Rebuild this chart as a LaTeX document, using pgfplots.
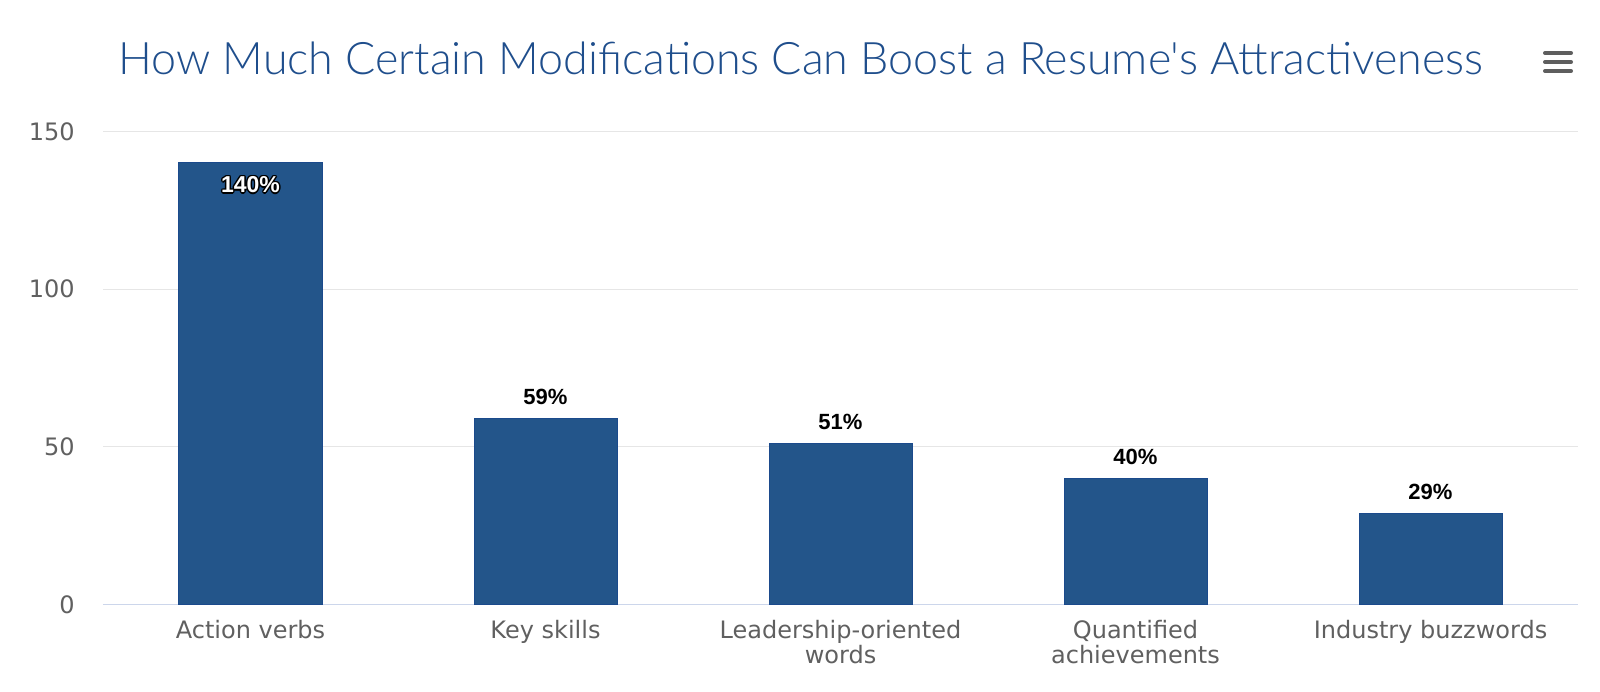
\documentclass[border=0pt]{standalone}
\usepackage{pgfplots}
\pgfplotsset{compat=1.18}
\usepackage{fontspec}
\setmainfont{DejaVu Sans}
\newfontfamily\labfont{Liberation Sans}
\newfontfamily\titlefont{Lato Light}

\definecolor{barblue}{HTML}{23558A}
\definecolor{barline}{HTML}{1B4A8C}
\definecolor{titleblue}{HTML}{1F4E8C}
\definecolor{tickgray}{HTML}{606060}
\definecolor{gridgray}{HTML}{E6E6E6}
\definecolor{axisblue}{HTML}{CCD6EB}
\definecolor{menugray}{HTML}{5E5E5E}

% two-line tick label, baseline on the first line
\newcommand\two[2]{\begin{tabular}[t]{@{}c@{}}#1\\#2\end{tabular}}

% white text with a thin black outline (label inside the tall bar)
\newcommand\outl[1]{\leavevmode
  \rlap{\kern-.7pt\textcolor{black}{#1}}%
  \rlap{\kern.7pt\textcolor{black}{#1}}%
  \rlap{\raisebox{.7pt}{\textcolor{black}{#1}}}%
  \rlap{\raisebox{-.7pt}{\textcolor{black}{#1}}}%
  \rlap{\kern-.5pt\raisebox{.5pt}{\textcolor{black}{#1}}}%
  \rlap{\kern.5pt\raisebox{.5pt}{\textcolor{black}{#1}}}%
  \rlap{\kern-.5pt\raisebox{-.5pt}{\textcolor{black}{#1}}}%
  \rlap{\kern.5pt\raisebox{-.5pt}{\textcolor{black}{#1}}}%
  \textcolor{white}{#1}}

\begin{document}
\begin{tikzpicture}
\useasboundingbox (-51.5pt,-43.25pt) rectangle (748.5pt,302.25pt);
\begin{axis}[
  at={(0,0)}, anchor=south west,
  scale only axis, width=737.5pt, height=236.6pt,
  xmin=-0.5, xmax=4.5, ymin=0, ymax=150,
  clip=false,
  axis lines*=left,
  y axis line style={draw=none},
  x axis line style={draw=axisblue, line width=0.75pt},
  major tick length=0pt,
  ytick={0,50,100,150},
  xtick={0,1,2,3,4},
  xticklabels={Action verbs, Key skills, \two{Leadership-oriented}{words}, \two{Quantified}{achievements}, Industry buzzwords},
  ymajorgrids,
  major grid style={draw=gridgray, line width=0.5pt},
  /pgf/number format/assume math mode=true,
  yticklabel style={font=\fontsize{12}{14}\selectfont, text=tickgray, anchor=east, inner sep=0pt, xshift=-14pt},
  xticklabel style={font=\fontsize{12}{12}\selectfont, text=tickgray, anchor=base, inner sep=0pt, yshift=-16.75pt},
]
\addplot[ybar, bar width=71.5pt, fill=barblue, draw=barline, line width=0.5pt]
  coordinates {(0,140) (1,59) (2,51) (3,40) (4,29)};
% labels above the short bars
\addplot[draw=none, mark=none,
  nodes near coords={\labfont\bfseries\pgfmathprintnumber{\pgfplotspointmeta}\%},
  every node near coord/.append style={anchor=base, yshift=7pt, inner sep=0pt, font=\fontsize{11}{13}\selectfont, text=black}]
  coordinates {(1,59) (2,51) (3,40) (4,29)};
% label inside the tall bar
\addplot[draw=none, mark=none,
  nodes near coords={\labfont\bfseries\outl{\pgfmathprintnumber{\pgfplotspointmeta}\%}},
  every node near coord/.append style={anchor=base, yshift=-15pt, inner sep=0pt, font=\fontsize{11.5}{13}\selectfont}]
  coordinates {(0,140)};
\end{axis}
\node[anchor=base, inner sep=0pt, text=titleblue, font=\titlefont\fontsize{22.4}{23}\selectfont]
  at (349pt,264.75pt) {How Much Certain Modifications Can Boost a Resume's Attractiveness};
% menu icon
\foreach \yy in {275.75pt,271.25pt,266.75pt}
  \draw[menugray, line width=2pt, line cap=round] (721pt,\yy) -- (734pt,\yy);
\end{tikzpicture}
\end{document}
